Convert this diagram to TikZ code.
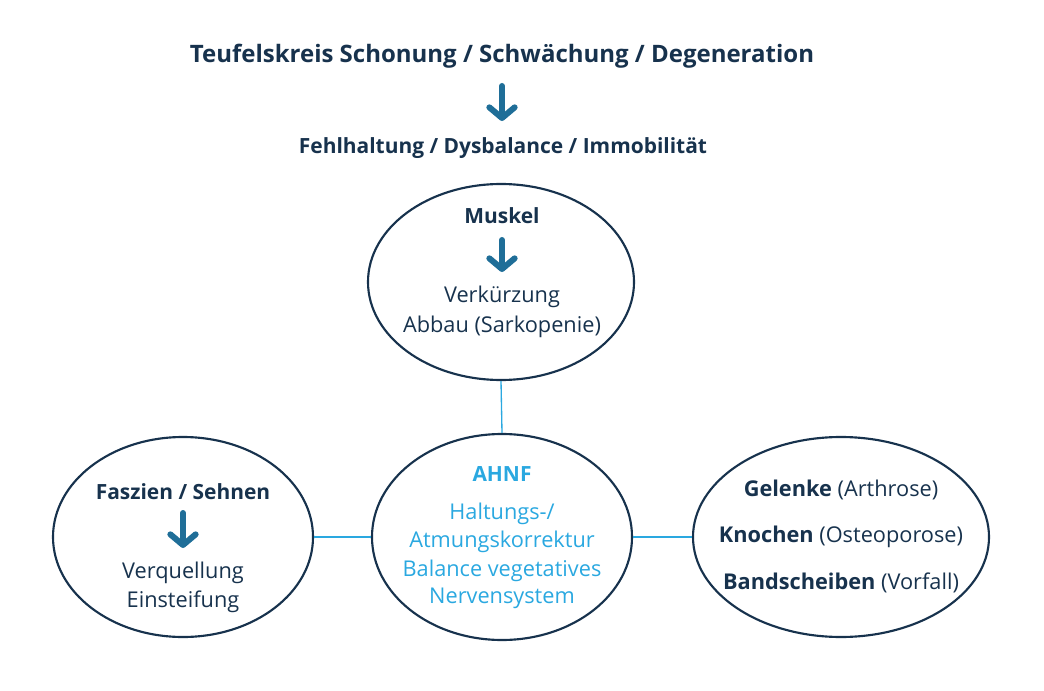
\documentclass[tikz,border=0pt]{standalone}
\usepackage{fontspec}
\setmainfont{Open Sans}
\usetikzlibrary{arrows.meta,shapes.geometric}
\definecolor{navy}{HTML}{17324D}
\definecolor{arrowblue}{HTML}{1F6E98}
\definecolor{skyblue}{HTML}{2AA8E0}
\tikzset{
  blob/.style={draw=navy,line width=1.6pt,ellipse,inner sep=0pt},
  txt/.style={text=navy,font=\fontsize{16.3}{19}\selectfont,inner sep=0pt},
  hd/.style={txt,font=\fontsize{15.7}{19}\selectfont\bfseries},
  blu/.style={txt,text=skyblue},
  downarr/.style={draw=arrowblue,line width=4.5pt,line cap=round,-{Straight Barb[round,length=8pt,width=19pt]}},
  link/.style={draw=skyblue,line width=1pt}
}
\begin{document}
\begin{tikzpicture}[x=0.75pt,y=-0.75pt]
\useasboundingbox (0,0) rectangle (1044,691);
% ellipses
\node[blob,minimum width=266*0.75pt,minimum height=196*0.75pt] (emusk) at (501,282) {};
\node[blob,minimum width=260*0.75pt,minimum height=206*0.75pt] (eahnf) at (502,537) {};
\node[blob,minimum width=260*0.75pt,minimum height=200*0.75pt] (efasz) at (183,537) {};
\node[blob,minimum width=296*0.75pt,minimum height=200*0.75pt] (egel) at (841,537) {};
\draw[link] (emusk.south)--(eahnf.north);
\draw[link] (efasz.east)--(eahnf.west);
\draw[link] (eahnf.east)--(egel.west);
% top lines
\node[hd,font=\fontsize{18}{21}\selectfont\bfseries] (title) at (502,56) {Teufelskreis Schonung / Schwächung / Degeneration};
\coordinate (a1) at (502,86);
\coordinate (a1e) at (502,121);
\draw[downarr] (a1)--(a1e);
\node[hd] (fehl) at (503,148) {Fehlhaltung / Dysbalance / Immobilität};
% Muskel
\node[hd] (musk) at (502,216) {Muskel};
\coordinate (a2) at (502,240);
\coordinate (a2e) at (502,272);
\draw[downarr] (a2)--(a2e);
\node[txt] (verk) at (502,297) {Verkürzung};
\node[txt] (abbau) at (502,327) {Abbau (Sarkopenie)};
% AHNF
\node[blu,font=\fontsize{15.7}{19}\selectfont\bfseries] (ahnf) at (502,474) {AHNF};
\node[blu] (halt) at (502,514) {Haltungs-/};
\node[blu] (atm) at (502,542) {Atmungskorrektur};
\node[blu] (bal) at (502,571) {Balance vegetatives};
\node[blu] (nerv) at (502,598) {Nervensystem};
% Faszien
\node[hd] (fasz) at (183,492) {Faszien / Sehnen};
\coordinate (a3) at (183,513);
\coordinate (a3e) at (183,548);
\draw[downarr] (a3)--(a3e);
\node[txt] (verq) at (183,573) {Verquellung};
\node[txt] (einst) at (183,602) {Einsteifung};
% rechts
\node[txt] (gel) at (841,490) {\textbf{Gelenke} (Arthrose)};
\node[txt] (kno) at (841,537) {\textbf{Knochen} (Osteoporose)};
\node[txt] (band) at (841,583) {\textbf{Bandscheiben} (Vorfall)};
\end{tikzpicture}
\end{document}
